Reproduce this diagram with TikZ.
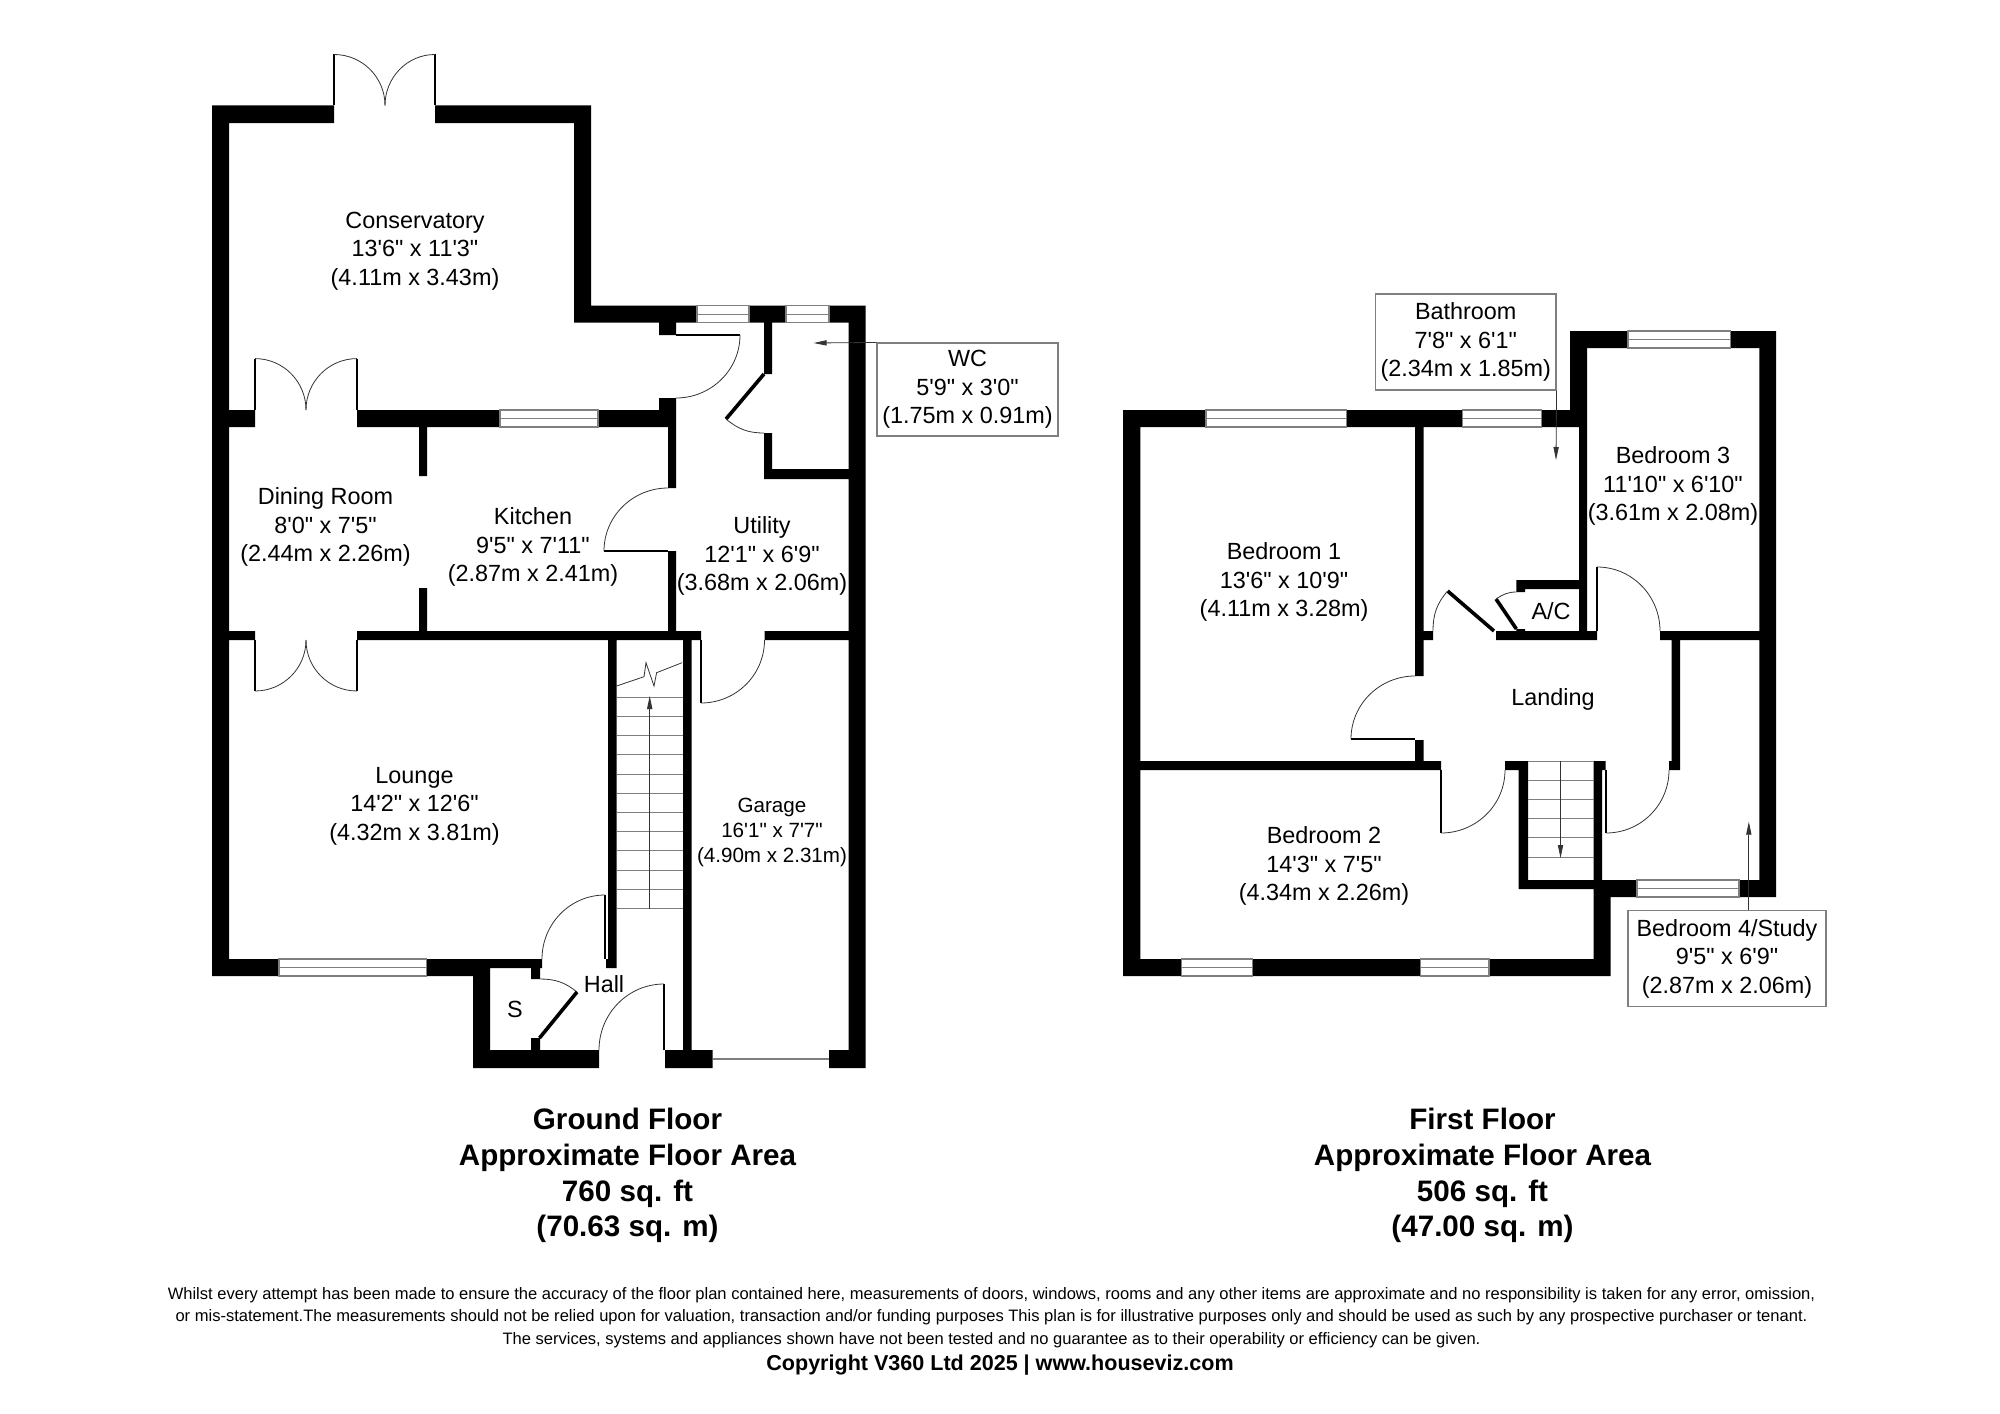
\documentclass[tikz,border=0pt]{standalone}
\usepackage{fontspec}
\newfontfamily\planfont{Liberation Sans}
\usetikzlibrary{arrows.meta}
\definecolor{PaneGray}{HTML}{7F7F7F}
\definecolor{SwingGray}{HTML}{333333}
\tikzset{
  wall/.style={fill=black},
  pane/.style={draw=PaneGray,line width=0.55pt},
  leaf/.style={draw=black,line width=0.8pt},
  thickleaf/.style={draw=black,line width=1.8pt},
  swing/.style={draw=SwingGray,line width=0.4pt},
  tread/.style={draw=PaneGray,line width=0.5pt},
  flight/.style={draw=SwingGray,line width=0.4pt,-{Triangle[length=6.5pt,width=2.6pt]}},
  roomlabel/.style={align=center,inner sep=0pt,font=\planfont\fontsize{11.7}{14.25}\selectfont},
  smalllabel/.style={align=center,inner sep=0pt,font=\planfont\fontsize{10.3}{12.5}\selectfont},
  calloutbox/.style={roomlabel,draw=PaneGray,line width=0.55pt},
  floortitle/.style={align=center,inner sep=0pt,font=\planfont\fontsize{14.8}{17.9}\selectfont\bfseries},
  disclaimer/.style={align=center,inner sep=0pt,font=\planfont\fontsize{8.27}{11.25}\selectfont},
}
\begin{document}
\begin{tikzpicture}[x=0.5pt,y=-0.5pt]
  \useasboundingbox (0,0) rectangle (2000,1413);

  % ground floor walls
  \fill[wall] (212,105.5) rectangle (229,976)
    (212,105.5) rectangle (334,123) (435,105.5) rectangle (591,123)
    (574,105.5) rectangle (591,322.6)
    (574,305.5) rectangle (697,322.6) (749,305.5) rectangle (786,322.6)
    (829,305.5) rectangle (865.5,322.6) (848.5,305.5) rectangle (865.5,1068)
    (659,322.6) rectangle (676,335) (659,398) rectangle (676,427)
    (229,410) rectangle (255,427) (357,410) rectangle (500,427) (598,410) rectangle (676,427)
    (419,427) rectangle (427,476) (419,588) rectangle (427,631)
    (668,427) rectangle (676,488) (668,551) rectangle (676,631)
    (764,322.6) rectangle (772,374) (764,433) rectangle (772,479) (764,469) rectangle (848.5,479)
    (229,631) rectangle (255,640) (357,631) rectangle (701,640) (764.5,631) rectangle (848.5,640)
    (608,640) rectangle (616.6,968) (606,959) rectangle (616.6,968)
    (683,640) rectangle (691.5,1068)
    (229,959) rectangle (279,976) (426.6,959) rectangle (542,968) (426.6,959) rectangle (490,976)
    (473,959) rectangle (490,1068)
    (531,968) rectangle (540,979) (531,1038) rectangle (540,1050)
    (473,1050) rectangle (599,1068) (665,1050) rectangle (712.6,1068) (829,1050) rectangle (865.5,1068);

  % first floor walls
  \fill[wall] (1123,410) rectangle (1140.4,976)
    (1123,410) rectangle (1206,427) (1346.6,410) rectangle (1462.7,427) (1541.7,410) rectangle (1587,427)
    (1570,331) rectangle (1587,427) (1579,427) rectangle (1587,640)
    (1570,331) rectangle (1628,348) (1730.4,331) rectangle (1776,348)
    (1759.3,331) rectangle (1776,897)
    (1415,427) rectangle (1423.7,676) (1415,740) rectangle (1423.7,761) (1415,631) rectangle (1433,640)
    (1496,631) rectangle (1597,640) (1660,631) rectangle (1759.3,640)
    (1516.4,580) rectangle (1579,589) (1516.4,580) rectangle (1525,592) (1516.4,629) rectangle (1525,631)
    (1671.6,640) rectangle (1680,770) (1669,761) rectangle (1680,770)
    (1140,761) rectangle (1441,770) (1505,761) rectangle (1528,770)
    (1518.7,761) rectangle (1528,889) (1518.7,880) rectangle (1602,889)
    (1593.6,761) rectangle (1602,880) (1593.6,761) rectangle (1605.5,770)
    (1593.6,880) rectangle (1637,897) (1739,880) rectangle (1776,897)
    (1593.6,880) rectangle (1610.6,976)
    (1123,959) rectangle (1181.7,976) (1252.4,959) rectangle (1420.5,976) (1489,959) rectangle (1610.6,976);

  % windows
  \foreach \xa/\ya/\xb/\yb in {697/305.5/749/322.6,786/305.5/829/322.6,500/410/598/427,279/959/426.6/976,
      1206/410/1346.6/427,1462.7/410/1541.7/427,1628/331/1730.4/348,1637/880/1739/897,
      1181.7/959/1252.4/976,1420.5/959/1489/976} {
    \draw[pane] (\xa,\ya) rectangle (\xb,\yb);
    \draw[pane] (\xa,{(\ya+\yb)/2}) -- (\xb,{(\ya+\yb)/2});
  }
  \draw[pane] (712.6,1059) -- (829,1059);

  % ground floor doors
  \draw[leaf] (334,105.5) -- (334,54.5);
  \draw[leaf] (435,105.5) -- (435,54.5);
  \draw[swing] (334,54.5) to[out=0,in=90] (385,105.5);
  \draw[swing] (435,54.5) to[out=180,in=90] (385,105.5);
  \draw[leaf] (255,410) -- (255,358.6);
  \draw[leaf] (357,410) -- (357,358.6);
  \draw[swing] (255,358.6) to[out=0,in=90] (306,410);
  \draw[swing] (357,358.6) to[out=180,in=90] (306,410);
  \draw[leaf] (255,640) -- (255,691);
  \draw[leaf] (357,640) -- (357,691);
  \draw[swing] (255,691) to[out=0,in=-90] (306,640);
  \draw[swing] (357,691) to[out=180,in=-90] (306,640);
  \draw[leaf] (676,335) -- (740,335);
  \draw[swing] (740,335) to[out=-90,in=0] (676,398);
  \draw[thickleaf] (764,374) -- (726,419);
  \draw[swing] (726,419) to[out=-40,in=180] (764,433);
  \draw[leaf] (668,551) -- (604,551);
  \draw[swing] (604,551) to[out=90,in=180] (668,488);
  \draw[leaf] (701,640) -- (701,703);
  \draw[swing] (701,703) to[out=0,in=-90] (764.5,640);
  \draw[leaf] (605,959) -- (605,895);
  \draw[swing] (605,895) to[out=180,in=90] (542,959);
  \draw[swing] (540,979) to[out=0,in=141] (577,992);
  \draw[thickleaf] (577,992) -- (539.5,1038);
  \draw[leaf] (664,1050) -- (664,984);
  \draw[swing] (664,984) to[out=180,in=90] (599,1050);

  % first floor doors
  \draw[thickleaf] (1494,631) -- (1447.6,591);
  \draw[swing] (1447.6,591) to[out=229,in=90] (1433,631);
  \draw[thickleaf] (1516.4,629) -- (1496,599);
  \draw[swing] (1496,599) to[out=34,in=180] (1516.4,592);
  \draw[leaf] (1597,631) -- (1597,567);
  \draw[swing] (1597,567) to[out=0,in=90] (1660,631);
  \draw[leaf] (1415,739) -- (1351,739);
  \draw[swing] (1351,739) to[out=90,in=180] (1415,676);
  \draw[leaf] (1441,770) -- (1441,833);
  \draw[swing] (1441,833) to[out=0,in=-90] (1505,770);
  \draw[leaf] (1606,770) -- (1606,833);
  \draw[swing] (1606,833) to[out=0,in=-90] (1669,770);

  % stairs
  \foreach \y in {697.3,716.5,735.7,754.9,774.1,793.3,812.5,831.7,850.9,870.1,889.3,908.5}
    \draw[tread] (616.6,\y) -- (683,\y);
  \draw[flight] (649.7,908.5) -- (649.7,696);
  \draw[swing] (616.6,686) -- (644,676.7) -- (646,662.7) -- (654,686) -- (656.6,672.7) -- (682,662.7);
  \foreach \y in {761,780.3,799.3,818.7,837.7,857}
    \draw[tread] (1528,\y) -- (1593.6,\y);
  \draw[flight] (1560.5,761) -- (1560.5,858);

  % rooms
  \node[roomlabel] at (415,251) (conservatory) {Conservatory\\13'6" x 11'3"\\(4.11m x 3.43m)};
  \node[roomlabel] at (325.5,527) (dining) {Dining Room\\8'0" x 7'5"\\(2.44m x 2.26m)};
  \node[roomlabel] at (533,547) (kitchen) {Kitchen\\9'5" x 7'11"\\(2.87m x 2.41m)};
  \node[roomlabel] at (762,556) (utility) {Utility\\12'1" x 6'9"\\(3.68m x 2.06m)};
  \node[roomlabel] at (414.5,806) (lounge) {Lounge\\14'2" x 12'6"\\(4.32m x 3.81m)};
  \node[smalllabel] at (772,832) (garage) {Garage\\16'1" x 7'7"\\(4.90m x 2.31m)};
  \node[roomlabel] at (604,984) (hall) {Hall};
  \node[roomlabel] at (515,1009) (store) {S};
  \node[roomlabel] at (1284,582) (bedone) {Bedroom 1\\13'6" x 10'9"\\(4.11m x 3.28m)};
  \node[roomlabel] at (1324,866) (bedtwo) {Bedroom 2\\14'3" x 7'5"\\(4.34m x 2.26m)};
  \node[roomlabel] at (1673,486) (bedthree) {Bedroom 3\\11'10" x 6'10"\\(3.61m x 2.08m)};
  \node[roomlabel] at (1551,611) (airing) {A/C};
  \node[roomlabel] at (1553,699) (landing) {Landing};

  % callouts
  \node[calloutbox,minimum width=90.5pt,minimum height=46.5pt] at (967.5,389.5) (wc) {WC\\5'9" x 3'0"\\(1.75m x 0.91m)};
  \node[calloutbox,minimum width=90.25pt,minimum height=48pt] at (1465.75,342) (bathroom) {Bathroom\\7'8" x 6'1"\\(2.34m x 1.85m)};
  \node[calloutbox,minimum width=99pt,minimum height=48pt] at (1727,958.9) (bedfour) {Bedroom 4/Study\\9'5" x 6'9"\\(2.87m x 2.06m)};
  \coordinate (wctip) at (813.6,343);
  \coordinate (bathtip) at (1556,460);
  \coordinate (bedfourtip) at (1748.8,821.7);
  \draw[flight] (wc.north west) -- (wctip);
  \draw[flight] (bathroom.south east) -- (bathtip);
  \draw[flight] (bedfour.north -| bedfourtip) -- (bedfourtip);

  % titles
  \node[floortitle] at (627.5,1175.5) (groundtitle) {Ground Floor\\Approximate Floor Area\\760 sq. ft\\(70.63 sq. m)};
  \node[floortitle] at (1482.5,1175.5) (firsttitle) {First Floor\\Approximate Floor Area\\506 sq. ft\\(47.00 sq. m)};

  % small print
  \node[disclaimer] at (991.5,1317.5) (smallprint) {Whilst every attempt has been made to ensure the accuracy of the floor plan contained here, measurements of doors, windows, rooms and any other items are approximate and no responsibility is taken for any error, omission,\\or mis-statement.The measurements should not be relied upon for valuation, transaction and/or funding purposes This plan is for illustrative purposes only and should be used as such by any prospective purchaser or tenant.\\The services, systems and appliances shown have not been tested and no guarantee as to their operability or efficiency can be given.};
  \node[disclaimer,font=\planfont\fontsize{10.77}{11.25}\selectfont\bfseries] at (1000,1365) (copyright) {Copyright V360 Ltd 2025 | www.houseviz.com};
\end{tikzpicture}
\end{document}
